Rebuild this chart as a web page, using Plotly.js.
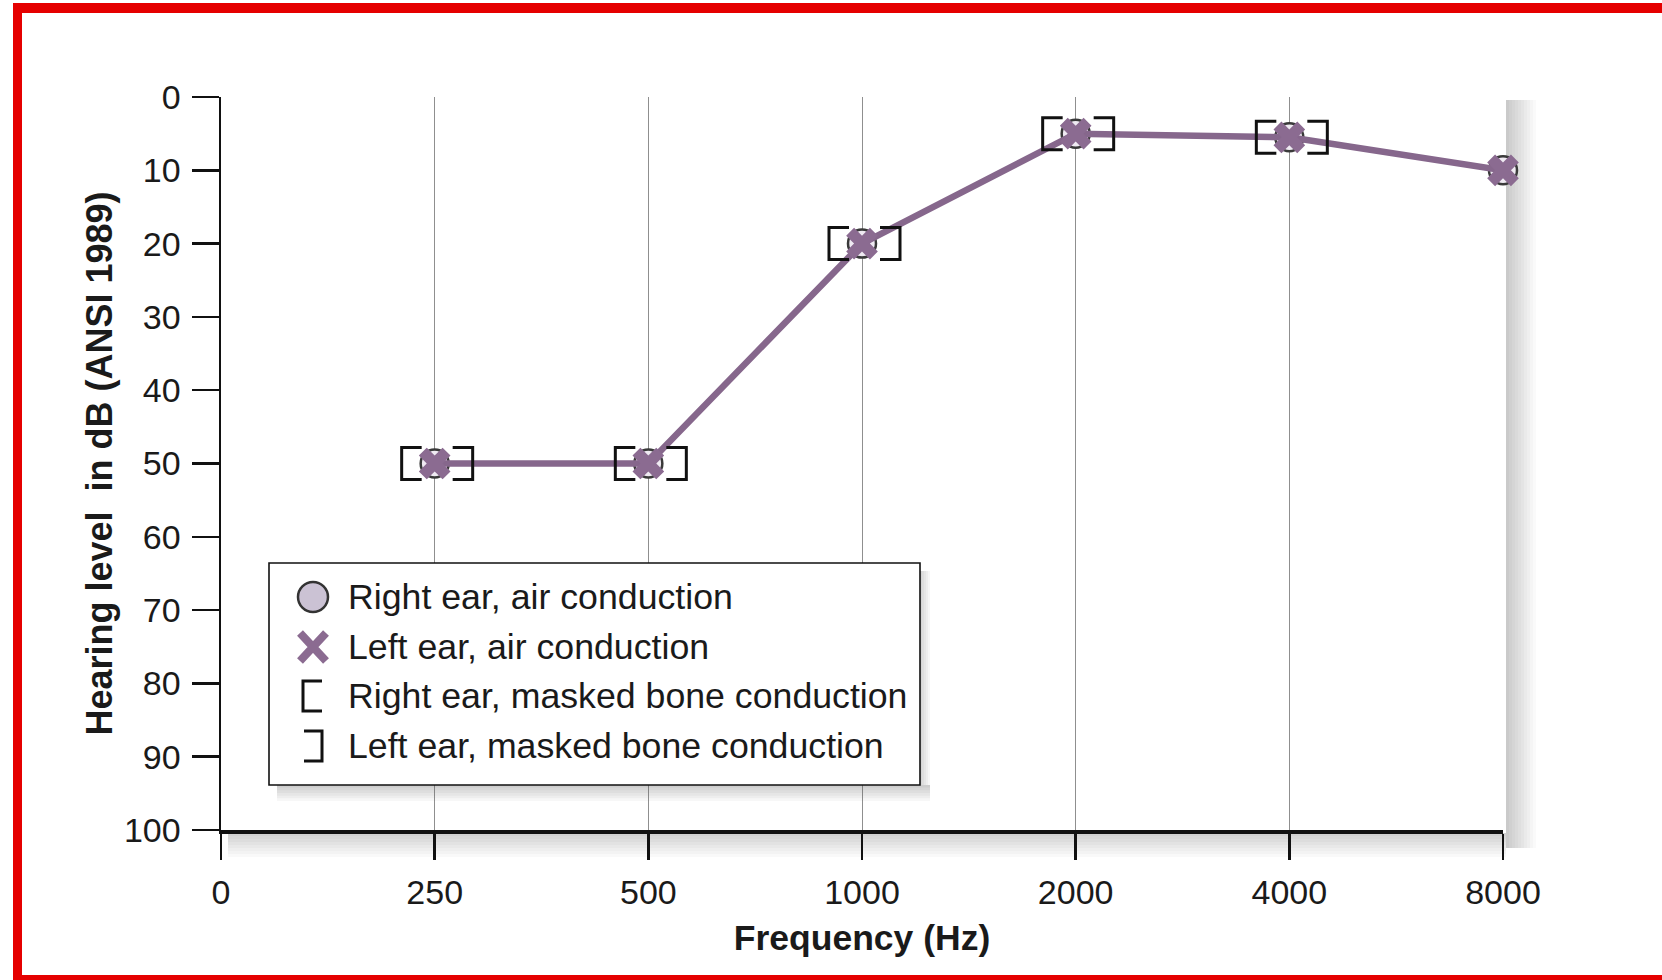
<!DOCTYPE html>
<html>
<head>
<meta charset="utf-8">
<script src="https://cdn.plot.ly/plotly-3.0.1.min.js"></script>
<style>
html, body { margin: 0; padding: 0; background: #ffffff; }
#chart { width: 1662px; height: 980px; }
</style>
</head>
<body>
<div id="chart"></div>
<script>
// ---------- data ----------
const freqCategories = ['0', '250', '500', '1000', '2000', '4000', '8000'];
const airFreqs = ['250', '500', '1000', '2000', '4000', '8000'];
const rightAirConduction = [50, 50, 20, 5, 5.5, 10];
const leftAirConduction = [50, 50, 20, 5, 5.5, 10];
const boneFreqs = ['250', '500', '1000', '2000', '4000'];
const rightMaskedBone = [50, 50, 20, 5, 5.5];
const leftMaskedBone = [50, 50, 20, 5, 5.5];
const yTickValues = [0, 10, 20, 30, 40, 50, 60, 70, 80, 90, 100];
const legendLabels = [
  'Right ear, air conduction',
  'Left ear, air conduction',
  'Right ear, masked bone conduction',
  'Left ear, masked bone conduction'
];
const xTitle = 'Frequency (Hz)';
const yTitle = 'Hearing level\u00a0 in dB (ANSI 1989)';

// ---------- layout helpers ----------
const WIDTH = 1662, HEIGHT = 980;
const ML = 221, MR = 159, MT = 97, MB = 150;
const PW = WIDTH - ML - MR, PH = HEIGHT - MT - MB;
const px = x => (x - ML) / PW;
const py = y => 1 - (y - MT) / PH;
const FONT = 'Liberation Sans, Arial, Helvetica, sans-serif';
const PURPLE = '#86678c';
const CIRCLE_FILL = '#cbc2d4';

const shapes = [];
const annotations = [];

function paperRect(x0, y0, x1, y1, fill, layer, line) {
  shapes.push({
    type: 'rect', xref: 'paper', yref: 'paper',
    x0: px(x0), x1: px(x1), y0: py(y1), y1: py(y0),
    fillcolor: fill, line: line || { width: 0 }, layer: layer || 'below'
  });
}

// soft shadows (decoration of the printed figure)
function shadowBand(dir, a0, a1, b0, len, maxAlpha, steps, layer) {
  for (let i = 0; i < steps; i++) {
    const alpha = maxAlpha * (1 - i / steps);
    const s = b0 + (len / steps) * i, e = b0 + (len / steps) * (i + 1);
    const c = 'rgba(90,90,90,' + alpha.toFixed(3) + ')';
    if (dir === 'right') paperRect(s, a0, e, a1, c, layer);
    else paperRect(a0, s, a1, e, c, layer);
  }
}
shadowBand('right', 100, 848, 1506, 30, 0.32, 10, 'below');
shadowBand('down', 228, 1506, 833, 24, 0.28, 8, 'below');

// red frame
const RED = '#e50000';
paperRect(13, 3, 22, 980, RED, 'above');
paperRect(13, 3, 1662, 13, RED, 'above');
paperRect(13, 975, 1662, 980, RED, 'above');

// ---------- traces ----------
const traces = [
  {
    type: 'scatter', mode: 'markers', name: legendLabels[0],
    x: airFreqs, y: rightAirConduction,
    marker: { symbol: 'circle', size: 28, color: '#efeaf2', line: { color: '#3a3a3a', width: 2.5 } },
    showlegend: false, hoverinfo: 'skip', cliponaxis: false
  },
  {
    type: 'scatter', mode: 'lines+markers', name: legendLabels[1],
    x: airFreqs, y: leftAirConduction,
    line: { color: PURPLE, width: 6.5 },
    marker: { symbol: 'x', size: 28, color: '#8b6b91', line: { width: 0 } },
    showlegend: false, hoverinfo: 'skip', cliponaxis: false
  }
];

// masked bone conduction brackets, anchored on the data values
const catIndex = f => freqCategories.indexOf(f);
boneFreqs.forEach((f, i) => {
  shapes.push({
    type: 'path', xref: 'x', yref: 'y', xsizemode: 'pixel', ysizemode: 'pixel',
    xanchor: catIndex(f), yanchor: rightMaskedBone[i],
    path: 'M -13 16 L -33 16 L -33 -16 L -13 -16',
    line: { color: '#111111', width: 3 }, layer: 'above'
  });
});
boneFreqs.forEach((f, i) => {
  shapes.push({
    type: 'path', xref: 'x', yref: 'y', xsizemode: 'pixel', ysizemode: 'pixel',
    xanchor: catIndex(f), yanchor: leftMaskedBone[i],
    path: 'M 18 16 L 38 16 L 38 -16 L 18 -16',
    line: { color: '#111111', width: 3 }, layer: 'above'
  });
});

// ---------- key (legend box) ----------
const LG = { left: 269, top: 563, right: 920, bottom: 785, symX: 313, textX: 346, rows: [597, 647, 696, 746] };
// legend shadow
shadowBand('down', LG.left + 8, LG.right + 10, LG.bottom, 16, 0.30, 6, 'above');
shadowBand('right', LG.top + 8, LG.bottom, LG.right, 10, 0.25, 5, 'above');
paperRect(LG.left, LG.top, LG.right, LG.bottom, '#ffffff', 'above', { color: '#111111', width: 1.6 });

function symbolShape(extra, yRow) {
  return Object.assign({
    xref: 'paper', yref: 'paper', xsizemode: 'pixel', ysizemode: 'pixel',
    xanchor: px(LG.symX), yanchor: py(yRow), layer: 'above'
  }, extra);
}
shapes.push(symbolShape({ type: 'circle', x0: -15, x1: 15, y0: -15, y1: 15,
  fillcolor: CIRCLE_FILL, line: { color: '#333333', width: 2.5 } }, LG.rows[0]));
shapes.push(symbolShape({ type: 'path', path: 'M -13 -14 L 13 14 M -13 14 L 13 -14',
  line: { color: '#8b6b91', width: 8 } }, LG.rows[1]));
shapes.push(symbolShape({ type: 'path', path: 'M 9 15 L -10 15 L -10 -15 L 9 -15',
  line: { color: '#111111', width: 3 } }, LG.rows[2]));
shapes.push(symbolShape({ type: 'path', path: 'M -9 15 L 9 15 L 9 -15 L -9 -15',
  line: { color: '#111111', width: 3 } }, LG.rows[3]));

legendLabels.forEach((label, i) => {
  annotations.push({
    xref: 'paper', yref: 'paper', x: px(LG.textX), y: py(LG.rows[i]),
    xanchor: 'left', yanchor: 'middle', showarrow: false, text: label,
    font: { family: FONT, size: 35.7, color: '#1a1a1a' }
  });
});

// ---------- layout ----------
const layout = {
  width: WIDTH, height: HEIGHT,
  margin: { l: ML, r: MR, t: MT, b: MB, pad: 0 },
  paper_bgcolor: '#ffffff', plot_bgcolor: 'rgba(0,0,0,0)',
  font: { family: FONT, color: '#1a1a1a' },
  showlegend: false,
  xaxis: {
    type: 'category', categoryorder: 'array', categoryarray: freqCategories,
    range: [0, 6], fixedrange: true,
    showgrid: true, gridcolor: '#8f8f8f', gridwidth: 1,
    showline: true, linecolor: '#111111', linewidth: 3.5, zeroline: false,
    ticks: 'outside', ticklen: 26, tickwidth: 2.5, tickcolor: '#111111',
    ticklabelstandoff: 4,
    tickfont: { family: FONT, size: 34, color: '#1a1a1a' },
    title: { text: xTitle, standoff: 16, font: { family: FONT, size: 35.5, weight: 'bold', color: '#1a1a1a' } }
  },
  yaxis: {
    range: [100, 0], fixedrange: true,
    tickmode: 'array', tickvals: yTickValues, ticktext: yTickValues.map(String),
    showgrid: false, zeroline: false,
    showline: true, linecolor: '#111111', linewidth: 2.5,
    ticks: 'outside', ticklen: 27, tickwidth: 2.5, tickcolor: '#111111',
    ticklabelstandoff: 4,
    tickfont: { family: FONT, size: 34, color: '#1a1a1a' },
    title: { text: yTitle, standoff: 1, font: { family: FONT, size: 36, weight: 'bold', color: '#1a1a1a' } }
  },
  shapes: shapes,
  annotations: annotations
};

Plotly.newPlot('chart', traces, layout, { staticPlot: true, displayModeBar: false });
</script>
</body>
</html>
